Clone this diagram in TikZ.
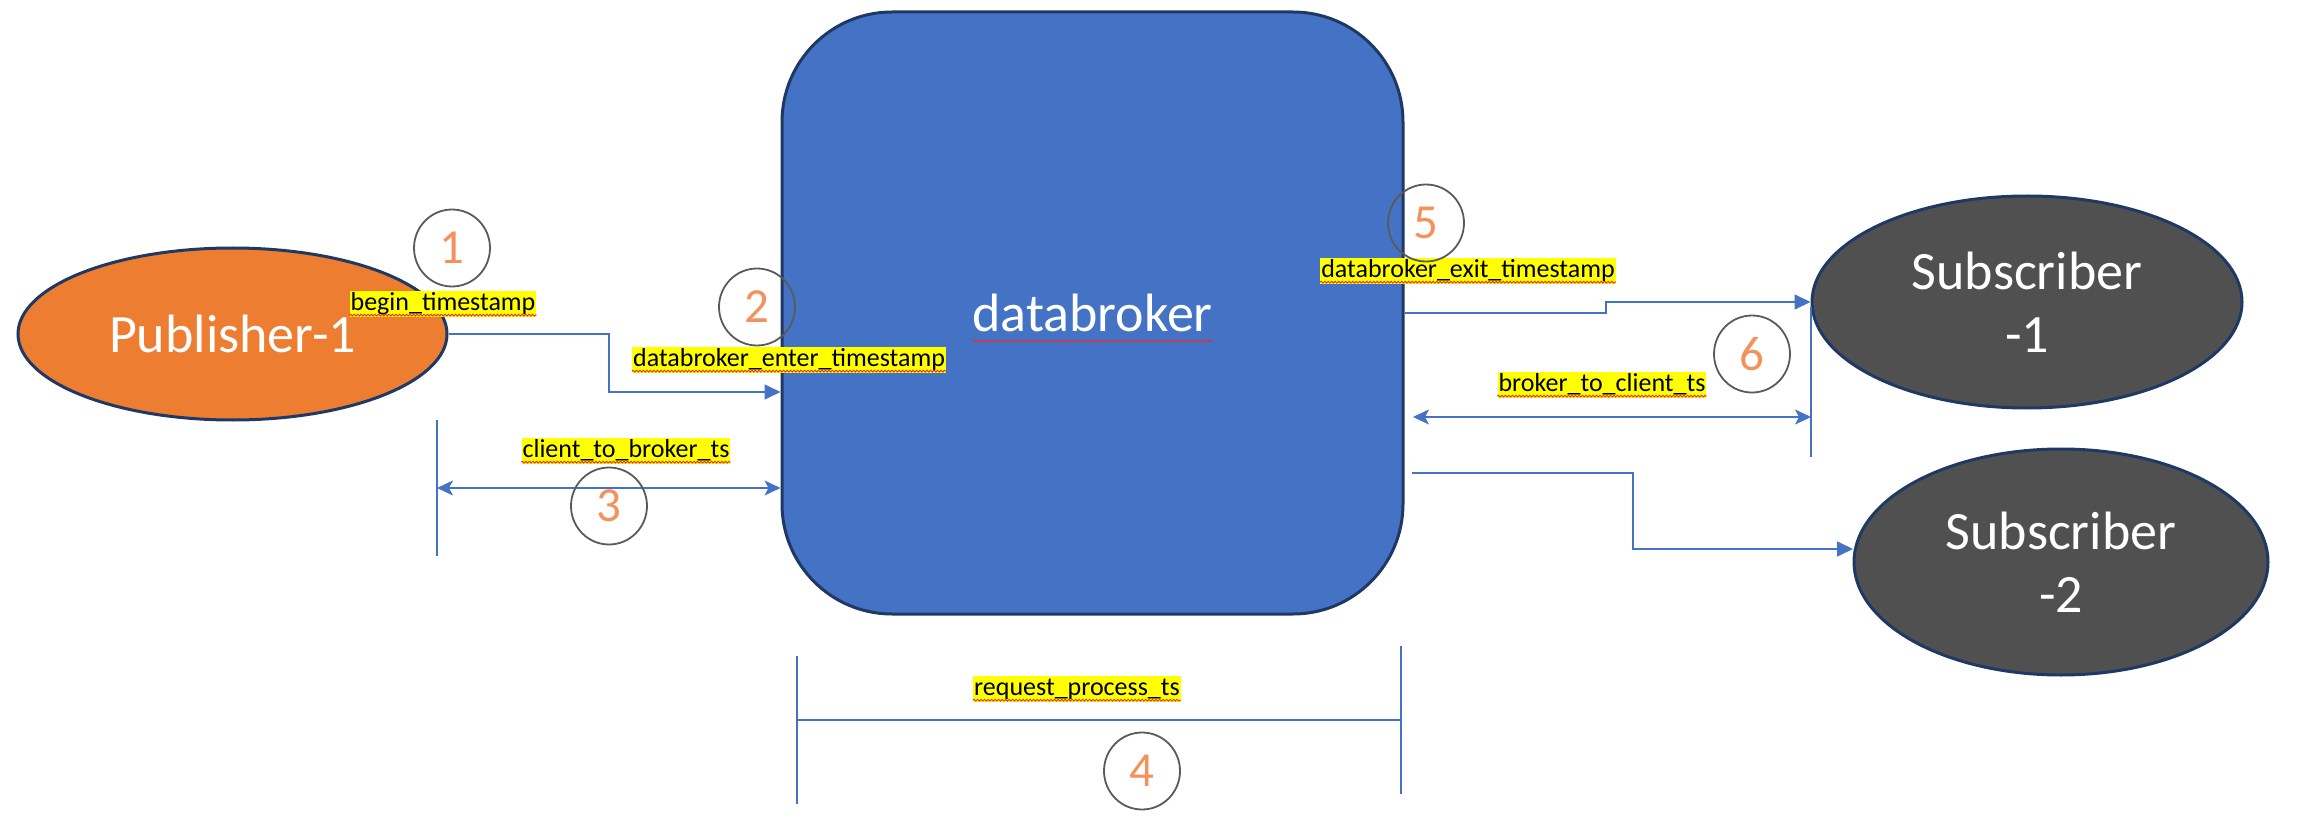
\documentclass[tikz,border=0pt]{standalone}
\usepackage{fontspec}
\setmainfont{Carlito}
\usetikzlibrary{shapes.geometric,arrows.meta,calc,decorations.pathmorphing}
\definecolor{dbblue}{HTML}{4472C4}
\definecolor{navy}{HTML}{203864}
\definecolor{puborange}{HTML}{ED7D31}
\definecolor{subgray}{HTML}{505050}
\definecolor{numorange}{HTML}{F4925E}
\definecolor{ringgray}{HTML}{5A5A5A}
\definecolor{hl}{HTML}{FFFF00}
\definecolor{spell}{HTML}{E03030}
\tikzset{
  bigtext/.style={text=white,font=\fontsize{54}{63}\selectfont,align=center},
  party/.style={ellipse,draw=navy,line width=3pt,inner sep=0pt,bigtext},
  lbl/.style={fill=hl,inner xsep=1pt,inner ysep=0.5pt,text height=19pt,text depth=6pt,font=\fontsize{26}{30}\selectfont},
  ring/.style={ellipse,draw=ringgray,line width=1.8pt,minimum width=76pt,minimum height=77pt,inner sep=0pt,text=numorange,font=\fontsize{49}{50}\selectfont},
  conn/.style={draw=dbblue,line width=1.6pt},
  arr/.style={conn,-{Triangle[length=16pt,width=15pt]}},
  darr/.style={conn,{Stealth[length=16pt,width=15pt,inset=4pt]}-{Stealth[length=16pt,width=15pt,inset=4pt]}},
  squig/.style={draw=spell,line width=0.9pt,decorate,decoration={snake,amplitude=0.9pt,segment length=3.5pt}},
}
\begin{document}
\begin{tikzpicture}[x=1pt,y=-1pt]
\useasboundingbox (0,0) rectangle (2313,826);
% main shapes
\node[draw=navy,fill=dbblue,line width=3pt,rounded corners=110pt,minimum width=621pt,minimum height=602pt] (db) at (1092.5,313) {};
\node[bigtext,inner sep=0pt] (dbtext) at (1092.5,313) {databroker};
\node[party,fill=puborange,minimum width=429pt,minimum height=172pt] (pub) at (232.5,334) {Publisher-1};
\node[party,fill=subgray,minimum width=430pt,minimum height=212pt] (sub1) at (2027,302) {Subscriber\\-1};
\node[party,fill=subgray,minimum width=414pt,minimum height=226pt] (sub2) at (2061,562) {Subscriber\\-2};
\draw[squig] ([yshift=-9pt]dbtext.south west) -- ([yshift=-9pt]dbtext.south east);
% helper coordinates
\coordinate (c1) at (609,392);
\coordinate (c5) at (1606,302);
\coordinate (s2a) at (1412,473);
\coordinate (c6) at (1633,549);
\coordinate (e2) at (1853,549);
\coordinate (t3a) at (437,420);
\coordinate (t3b) at (437,556);
\coordinate (a3) at (437,488);
\coordinate (t6a) at (1811,307);
\coordinate (t6b) at (1811,457);
\coordinate (a6l) at (1413,417);
\coordinate (a6r) at (1811,417);
\coordinate (t4a) at (797,656);
\coordinate (t4b) at (797,804);
\coordinate (t4c) at (1401,646);
\coordinate (t4d) at (1401,794);
\coordinate (a4) at (797,720);
% connectors
\draw[arr] (pub.east) -| (c1) -- (db.west |- c1);
\draw[arr] (db.east) -| (c5) -- (sub1.west);
\draw[arr] (s2a) -| (c6) -- (e2);
\draw[conn] (t3a) -- (t3b);
\draw[darr] (a3) -- (a3 -| db.west);
\draw[conn] (t6a) -- (t6b);
\draw[darr] (a6l) -- (a6r);
\draw[conn] (t4a) -- (t4b);
\draw[conn] (t4c) -- (t4d);
\draw[conn] (a4) -- (a4 -| t4c);
% labels
\node[lbl] (l1) at (443,304) {begin\_timestamp};
\node[lbl] (l2) at (789,360) {databroker\_enter\_timestamp};
\node[lbl] (l3) at (626,451) {client\_to\_broker\_ts};
\node[lbl] (l4) at (1077,689) {request\_process\_ts};
\node[lbl] (l5) at (1468,271) {databroker\_exit\_timestamp};
\node[lbl] (l6) at (1602,385) {broker\_to\_client\_ts};
\foreach \l in {l1,l2,l3,l4,l5,l6}
  \draw[squig] ([yshift=2pt]\l.south west) -- ([yshift=2pt]\l.south east);
% numbered rings
\node[ring] (n1) at (452,248) {1};
\node[ring] (n2) at (757,307) {2};
\node[ring] (n3) at (609,506) {3};
\node[ring] (n4) at (1142,771) {4};
\node[ring] (n5) at (1426,223) {5};
\node[ring] (n6) at (1752,354) {6};
\end{tikzpicture}
\end{document}
